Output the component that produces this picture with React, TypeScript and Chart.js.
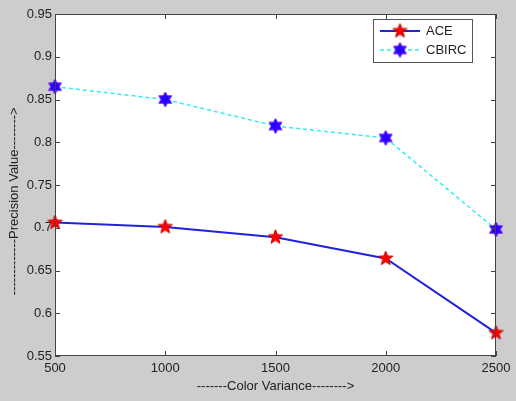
import React, { useEffect, useRef } from "react";
import { Chart, registerables } from "chart.js";

Chart.register(...registerables);

const xValues = [500, 1000, 1500, 2000, 2500];
const aceValues = [0.706, 0.701, 0.689, 0.664, 0.577];
const cbircValues = [0.865, 0.85, 0.819, 0.805, 0.698];
const seriesNames = ["ACE", "CBIRC"];
const xTitle = "-------Color Variance-------->";
const yTitle = "-------------Precision Value-------->         ";

function makeStar(points: number, outer: number, inner: number, fill: string, stroke: string): HTMLCanvasElement {
  const size = Math.ceil(outer * 2 + 4);
  const c = document.createElement("canvas");
  c.width = size;
  c.height = size;
  const g = c.getContext("2d")!;
  const cx = size / 2;
  const cy = size / 2;
  g.beginPath();
  for (let i = 0; i < points * 2; i++) {
    const r = i % 2 === 0 ? outer : inner;
    const a = -Math.PI / 2 + (i * Math.PI) / points;
    const px = cx + r * Math.cos(a);
    const py = cy + r * Math.sin(a);
    if (i === 0) g.moveTo(px, py);
    else g.lineTo(px, py);
  }
  g.closePath();
  g.fillStyle = fill;
  g.fill();
  g.lineWidth = 1;
  g.strokeStyle = stroke;
  g.stroke();
  return c;
}

const FONT = "'Liberation Sans', Arial, sans-serif";

export default function App() {
  const ref = useRef<HTMLCanvasElement>(null);

  useEffect(() => {
    const canvas = ref.current;
    if (!canvas) return;
    const pent = makeStar(5, 7.5, 3.2, "#ff0000", "#cc0000");
    const hex = makeStar(6, 7.5, 4.2, "#2a00ff", "#6a20ff");

    const boxPlugin = {
      id: "matlabBox",
      beforeDraw(chart: any) {
        const { ctx, chartArea: a } = chart;
        ctx.save();
        ctx.fillStyle = "#cdcdcd";
        ctx.fillRect(0, 0, chart.width, chart.height);
        ctx.fillStyle = "#ffffff";
        ctx.fillRect(a.left, a.top, a.right - a.left, a.bottom - a.top);
        ctx.restore();
      },
      afterDatasetsDraw(chart: any) {
        const { ctx, chartArea: a } = chart;
        const xs = chart.scales.x;
        const ys = chart.scales.y;
        ctx.save();
        ctx.strokeStyle = "#444";
        ctx.lineWidth = 1;
        ctx.strokeRect(a.left + 0.5, a.top + 0.5, a.right - a.left - 1, a.bottom - a.top - 1);
        const len = 5;
        ctx.beginPath();
        xs.ticks.forEach((t: any) => {
          const px = Math.round(xs.getPixelForValue(t.value)) + 0.5;
          ctx.moveTo(px, a.bottom);
          ctx.lineTo(px, a.bottom - len);
          ctx.moveTo(px, a.top);
          ctx.lineTo(px, a.top + len);
        });
        ys.ticks.forEach((t: any) => {
          const py = Math.round(ys.getPixelForValue(t.value)) + 0.5;
          ctx.moveTo(a.left, py);
          ctx.lineTo(a.left + len, py);
          ctx.moveTo(a.right, py);
          ctx.lineTo(a.right - len, py);
        });
        ctx.stroke();

        // legend
        const lw = 99;
        const lh = 43;
        const lx = a.right - 123;
        const ly = a.top + 5;
        ctx.fillStyle = "#ffffff";
        ctx.fillRect(lx, ly, lw, lh);
        ctx.strokeStyle = "#555";
        ctx.strokeRect(lx + 0.5, ly + 0.5, lw, lh);
        const rows = [
          { y: ly + 12, color: "#2222dd", dash: [] as number[], width: 2, img: pent, name: seriesNames[0] },
          { y: ly + 31, color: "#33eeee", dash: [4, 3], width: 1.5, img: hex, name: seriesNames[1] },
        ];
        rows.forEach((r) => {
          ctx.beginPath();
          ctx.setLineDash(r.dash);
          ctx.strokeStyle = r.color;
          ctx.lineWidth = r.width;
          ctx.moveTo(lx + 7, r.y);
          ctx.lineTo(lx + 47, r.y);
          ctx.stroke();
          ctx.setLineDash([]);
          ctx.drawImage(r.img, lx + 27 - r.img.width / 2, r.y - r.img.height / 2);
          ctx.fillStyle = "#222";
          ctx.font = `13px ${FONT}`;
          ctx.textBaseline = "middle";
          ctx.textAlign = "left";
          ctx.fillText(r.name, lx + 53, r.y);
        });
        ctx.restore();
      },
    };

    const chart = new Chart(canvas, {
      type: "line",
      data: {
        datasets: [
          {
            label: seriesNames[0],
            data: xValues.map((x, i) => ({ x, y: aceValues[i] })),
            borderColor: "#2222dd",
            borderWidth: 2,
            pointStyle: pent as any,
            pointRadius: 8,
            backgroundColor: "#ff0000",
            tension: 0,
          },
          {
            label: seriesNames[1],
            data: xValues.map((x, i) => ({ x, y: cbircValues[i] })),
            borderColor: "#33eeee",
            borderWidth: 1.5,
            borderDash: [4, 3],
            pointStyle: hex as any,
            pointRadius: 8,
            backgroundColor: "#2a00ff",
            tension: 0,
          },
        ],
      },
      plugins: [boxPlugin],
      options: {
        responsive: false,
        animation: false,
        clip: false,
        layout: { padding: { left: 0, right: 20, top: 14, bottom: 0 } },
        plugins: { legend: { display: false }, tooltip: { enabled: false } },
        scales: {
          x: {
            type: "linear",
            min: 500,
            max: 2500,
            grid: { display: false, drawTicks: false },
            border: { display: false },
            afterFit: (s: any) => {
              s.height = 45;
            },
            ticks: {
              stepSize: 500,
              padding: 5,
              color: "#222",
              font: { family: FONT, size: 13 },
              maxRotation: 0,
              autoSkip: false,
              callback: (v: any) => String(v),
            },
            title: {
              display: true,
              text: xTitle,
              color: "#222",
              font: { family: FONT, size: 13 },
              padding: { top: 0, bottom: 7 },
            },
          },
          y: {
            type: "linear",
            min: 0.55,
            max: 0.95,
            grid: { display: false, drawTicks: false },
            border: { display: false },
            afterFit: (s: any) => {
              s.width = 55;
            },
            ticks: {
              stepSize: 0.05,
              padding: 3,
              color: "#222",
              font: { family: FONT, size: 13 },
              callback: (v: any) => String(Number(Number(v).toFixed(2))),
            },
            title: {
              display: true,
              text: yTitle,
              color: "#222",
              font: { family: FONT, size: 13 },
              padding: { top: 7, bottom: 0 },
            },
          },
        },
      },
    });
    return () => chart.destroy();
  }, []);

  return (
    <div style={{ position: "fixed", left: 0, top: 0, width: 516, height: 401 }}>
      <canvas ref={ref} width={516} height={401} style={{ display: "block", width: 516, height: 401 }} />
    </div>
  );
}
